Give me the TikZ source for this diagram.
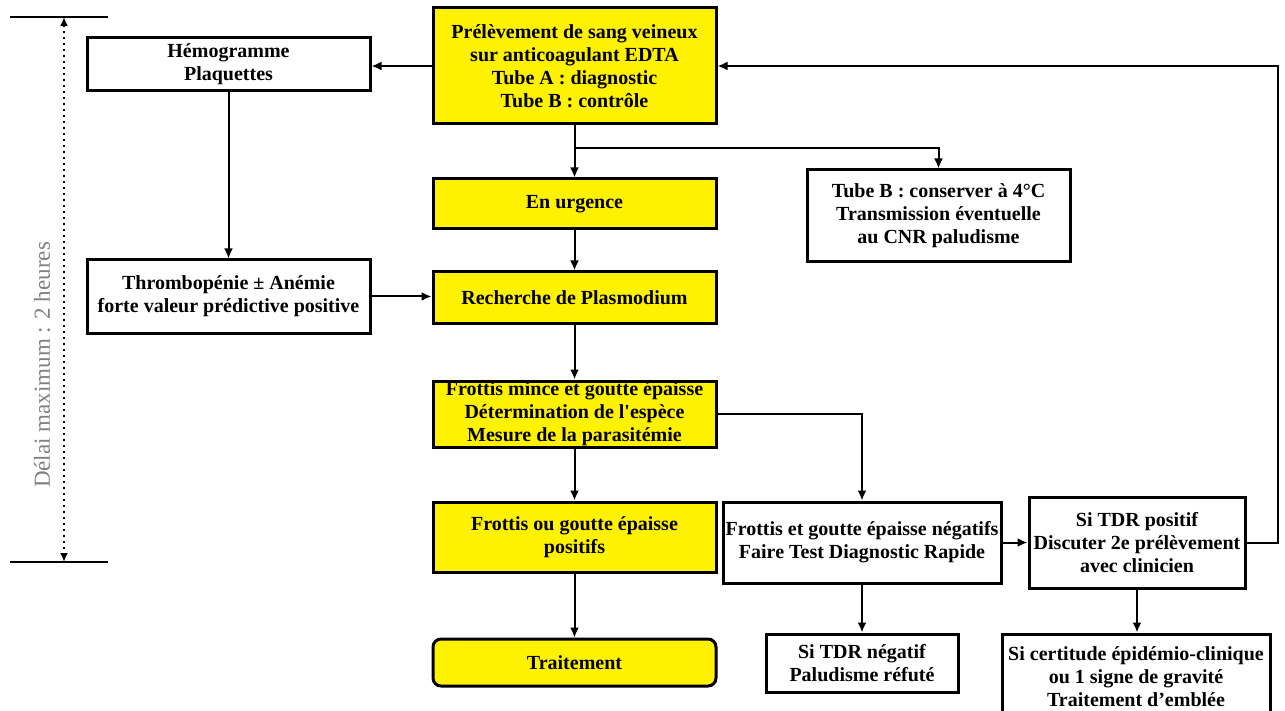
\documentclass[tikz,border=0pt]{standalone}
\usepackage{fontspec}
\setmainfont{Liberation Serif}
\usetikzlibrary{arrows.meta}
\begin{document}
\begin{tikzpicture}[x=0.5pt,y=-0.5pt,
  box/.style={draw, line width=1.5pt, align=center, inner sep=0pt,
    font=\bfseries\fontsize{10}{11.5}\selectfont},
  jaune/.style={box, fill=yellow},
  fleche/.style={-{Latex[length=5pt,width=4.5pt]}, line width=1pt}]
\useasboundingbox (0,0) rectangle (1285,711);
\coordinate (haut) at (64,17);
\coordinate (bas) at (64,562);
\coordinate (branche) at (574.5,148);
\coordinate (retour) at (1278,66);

% colonne centrale
\node[jaune, minimum width=141.5pt, minimum height=58pt] (prel) at (574.5,66)
  {Prélèvement de sang veineux\\sur anticoagulant EDTA\\Tube A : diagnostic\\Tube B : contrôle};
\node[jaune, minimum width=141.5pt, minimum height=25pt] (urg) at (574.5,204) {En urgence};
\node[jaune, minimum width=141.5pt, minimum height=26pt] (rech) at (574.5,298) {Recherche de Plasmodium};
\node[jaune, minimum width=141.5pt, minimum height=33pt] (mince) at (574.5,414)
  {Frottis mince et goutte épaisse\\Détermination de l\textquotesingle espèce\\Mesure de la parasitémie};
\node[jaune, minimum width=141.5pt, minimum height=35pt] (posit) at (574.5,537)
  {Frottis ou goutte épaisse\\positifs};
\node[jaune, rounded corners=4pt, minimum width=141.5pt, minimum height=23.5pt] (trait) at (574.5,662.5) {Traitement};

% colonne gauche
\node[box, minimum width=141.5pt, minimum height=26.5pt] (hemo) at (228.5,64.5) {Hémogramme\\Plaquettes};
\node[box, minimum width=141.5pt, minimum height=36.5pt] (thromb) at (228.5,296.5)
  {Thrombopénie ± Anémie\\forte valeur prédictive positive};

% droite
\node[box, minimum width=131.5pt, minimum height=46pt] (tubeb) at (938.5,216)
  {Tube B : conserver à 4°C\\Transmission éventuelle\\au CNR paludisme};
\node[box, minimum width=139pt, minimum height=40.5pt] (neg) at (862,542.5)
  {Frottis et goutte épaisse négatifs\\Faire Test Diagnostic Rapide};
\node[box, minimum width=96pt, minimum height=29pt] (tdrneg) at (862,663)
  {Si TDR négatif\\Paludisme réfuté};
\node[box, minimum width=108pt, minimum height=45.5pt] (tdrpos) at (1137,542.5)
  {Si TDR positif\\Discuter 2e prélèvement\\avec clinicien};
\node[box, minimum width=134pt, minimum height=43pt] (certi) at (1136,677)
  {Si certitude épidémio-clinique\\ou 1 signe de gravité\\Traitement d’emblée};

% delai
\draw[line width=0.7pt] (haut) ++(-54,0) -- ++(98,0);
\draw[line width=0.7pt] (bas) ++(-54,0) -- ++(98,0);
\draw[dotted, line width=1pt, {Latex[length=4.5pt,width=4pt]}-{Latex[length=4.5pt,width=4pt]}] (haut) -- (bas);
\node[rotate=90, text=black!50, font=\fontsize{11.5}{12}\selectfont] (delai) at (42,365) {Délai maximum : 2 heures};

% fleches
\draw[fleche] (prel.west) -- (prel.west -| hemo.east);
\draw[fleche] (hemo) -- (thromb);
\draw[fleche] (thromb.east) -- (thromb.east -| rech.west);
\draw[fleche] (prel) -- (urg);
\draw[fleche] (branche) -| (tubeb.north);
\draw[fleche] (urg) -- (rech);
\draw[fleche] (rech) -- (mince);
\draw[fleche] (mince) -- (posit);
\draw[fleche] (posit) -- (trait);
\draw[fleche] (mince.east) -| (neg.north);
\draw[fleche] (neg) -- (tdrneg);
\draw[fleche] (neg.east) -- (neg.east -| tdrpos.west);
\draw[fleche] (tdrpos.south) -- (tdrpos.south |- certi.north);
\draw[fleche] (tdrpos.east) -| (retour) -- (prel.east);
\end{tikzpicture}
\end{document}
